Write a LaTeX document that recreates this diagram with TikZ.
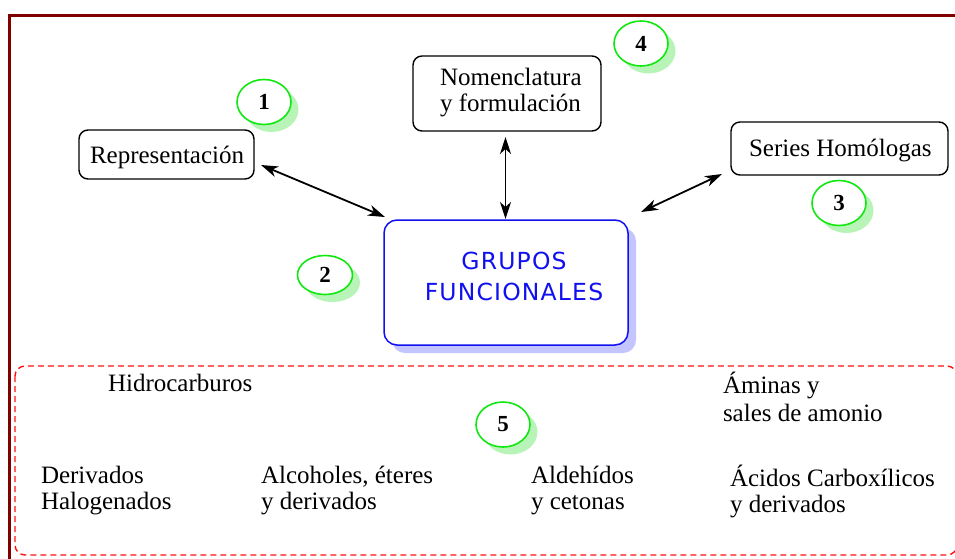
\documentclass[tikz,border=0pt]{standalone}
\usepackage{fontspec}
\setmainfont{Liberation Serif}
\newfontfamily\comicfont[LetterSpace=5]{DejaVu Sans}
\usetikzlibrary{arrows.meta,shapes.geometric,shadows}
\definecolor{framered}{HTML}{800000}
\definecolor{dashred}{HTML}{FF1010}
\definecolor{ringgreen}{HTML}{10E810}
\definecolor{shadegreen}{HTML}{B8F4B8}
\definecolor{boxblue}{HTML}{1010F0}
\definecolor{shadeblue}{HTML}{C4C4FF}
\begin{document}
\begin{tikzpicture}[x=1pt,y=-1pt,
  every node/.style={inner sep=0pt, outer sep=0pt},
  serif/.style={font=\fontsize{25}{25.5}\selectfont},
  topicbox/.style={draw=black, line width=1.4pt, rounded corners=9pt, fill=white},
  numring/.style={ellipse, draw=ringgreen, line width=1.6pt, fill=white,
     minimum width=54pt, minimum height=45pt,
     font=\bfseries\fontsize{23}{23}\selectfont,
     drop shadow={shadow xshift=7.5pt, shadow yshift=-7.5pt, fill=shadegreen, opacity=1}},
  link/.style={{Stealth[length=17pt,width=11pt,inset=5pt]}-{Stealth[length=17pt,width=11pt,inset=5pt]}, line width=1.8pt},
  label/.style={serif, align=left, anchor=base west}
]
\useasboundingbox (0,0) rectangle (955,558);
\clip (0,0) rectangle (955,558);

% outer frame
\draw[framered, line width=2.6pt] (9.5,570) -- (9.5,15.5) -- (970,15.5);

% dashed group
\draw[dashred, line width=1.4pt, dashed, dash pattern=on 6pt off 4pt, rounded corners=10pt]
  (15,366) rectangle (957,555);

% central box
\fill[shadeblue, rounded corners=13pt] (392,228) rectangle (636,353);
\node[draw=boxblue, line width=1.5pt, rounded corners=13pt, fill=white,
      minimum width=244pt, minimum height=125pt] (gf) at (506,282.5) {};
\node[font=\comicfont\fontsize{23.5}{31}\selectfont, text=boxblue, align=center, anchor=base]
  (gft) at (514,300) {GRUPOS\\FUNCIONALES};

% topic boxes
\node[topicbox, minimum width=175pt, minimum height=49pt] (rep) at (166.5,154.5) {};
\node[serif, anchor=base west] (rept) at (90,163) {Representación};

\node[topicbox, minimum width=188pt, minimum height=75pt] (nom) at (507,93.5) {};
\node[label] (nomt) at (440,111) {Nomenclatura\\y formulación};

\node[topicbox, minimum width=217pt, minimum height=53pt] (ser) at (839.5,148.5) {};
\node[serif, anchor=base west] (sert) at (749,156) {Series Homólogas};

% connectors
\coordinate (repend) at (261,165);
\coordinate (gfleft) at (385,217);
\coordinate (nomend) at (505.5,137);
\coordinate (gftop) at (505.5,219);
\coordinate (serend) at (722,174);
\coordinate (gfright) at (641,212);
\draw[link] (repend) -- (gfleft);
\draw[link] (nomend) -- (gftop);
\draw[link] (serend) -- (gfright);

% number rings
\node[numring] (n1) at (264,102) {1};
\node[numring, minimum width=55pt, minimum height=39pt] (n2) at (325,275) {2};
\node[numring] (n3) at (839,203) {3};
\node[numring] (n4) at (641,43.5) {4};
\node[numring] (n5) at (503,424.5) {5};

% group labels
\node[label] (hid) at (108,391) {Hidrocarburos};
\node[label] (hal) at (41,509) {Derivados\\Halogenados};
\node[label] (alc) at (261,509) {Alcoholes, éteres\\y derivados};
\node[label] (ald) at (531,509) {Aldehídos\\y cetonas};
\node[label] (ami) at (723,421) {Áminas y\\[2.5pt]sales de amonio};
\node[label] (aci) at (730,512) {Ácidos Carboxílicos\\y derivados};
\end{tikzpicture}
\end{document}
